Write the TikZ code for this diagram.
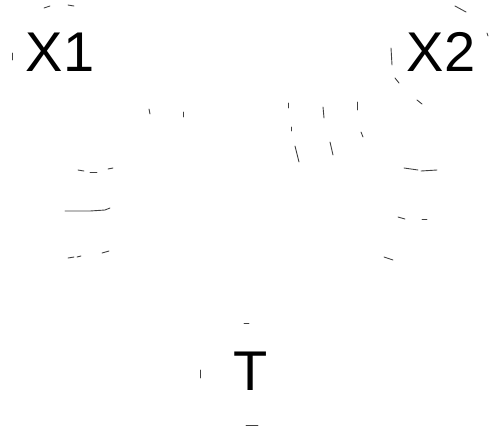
\documentclass[tikz,border=0pt]{standalone}
\usepackage{fontspec}
\setmainfont{Liberation Sans}
\begin{document}
\begin{tikzpicture}[x=1pt,y=-1pt,
  lbl/.style={font=\fontsize{56}{60}\selectfont, inner sep=0pt},
  frag/.style={draw=black!75, line width=0.9pt, line cap=round}]
\useasboundingbox (0,0) rectangle (489,432);
% nodes
\node[lbl] (x1) at (60,52) {X1};
\node[lbl] (x2) at (441,52) {X2};
\node[lbl] (t) at (251,371) {T};
% faint circle fragments
\begin{scope}[frag]
\draw (44,8) -- (50,6); \draw (68,5) -- (74,6); \draw (12,53) -- (12,60);
\draw (455,6) -- (466,12); \draw (487,33) -- (488,36); \draw (391,48) -- (392,65);
\draw (395,78) -- (399,83); \draw (417,100) -- (422,104);
\draw (244,323) -- (249,323); \draw (200,370) -- (200,378); \draw (246,425) -- (258,425);
% middle fragments
\draw (149,109) -- (150,114); \draw (183,112) -- (183,117);
\draw (288,103) -- (288,108); \draw (291,127) -- (291,131); \draw (295,146) -- (299,162);
\draw (323,107) -- (324,118); \draw (330,142) -- (333,155);
\draw (357,102) -- (357,110); \draw (361,132) -- (363,137);
% left fragments
\draw (78,170) -- (84,171); \draw (90,172) -- (97,172); \draw (108,169) -- (113,168);
\draw (65,211) -- (90,211) -- (105,210) -- (110,208);
\draw (68,258) -- (74,257); \draw (77,257) -- (81,256); \draw (102,253) -- (109,251);
% right fragments
\draw (404,168) -- (418,170); \draw (421,171) -- (437,170);
\draw (398,217) -- (405,219); \draw (422,219) -- (427,219);
\draw (384,257) -- (393,260);
\end{scope}
\end{tikzpicture}
\end{document}
